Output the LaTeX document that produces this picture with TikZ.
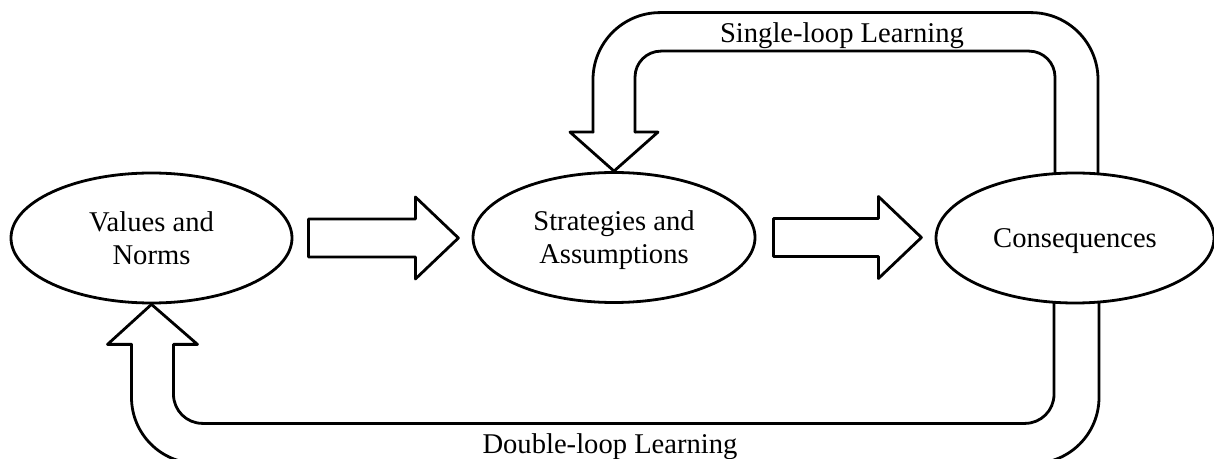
\documentclass[tikz,border=0pt]{standalone}
\usepackage{fontspec}
\setmainfont{Liberation Serif}
\usetikzlibrary{shapes.geometric,calc}
\begin{document}
\begin{tikzpicture}[x=0.5pt,y=-0.5pt,
  ln/.style={line width=1.4pt, line join=round, line cap=round},
  ell/.style={ellipse, draw, line width=1.4pt, inner sep=0pt, minimum height=65pt,
    align=center, font=\fontsize{14.3}{16.5}\selectfont},
  lbl/.style={font=\fontsize{14.3}{16}\selectfont, inner sep=0pt}]
\fill[white] (0,0) rectangle (1214,459);
\useasboundingbox (0,0) rectangle (1214,459);

% ellipses
\node[ell, minimum width=140.5pt] (v) at (151.5,238) {Values and\\Norms};
\node[ell, minimum width=141pt, text depth=0pt] (s) at (614,237.5) {Strategies and\\Assumptions};
\node[ell, minimum width=139pt, text depth=0pt] (c) at (1075,238) {Consequences};

% block arrows between ellipses
\draw[ln] ($(v.east)+(15,-19)$) -- ++(107,0) -- ++(0,-22) -- ++(43,41)
  -- ++(-43,41) -- ++(0,-22) -- ++(-107,0) -- cycle;
\draw[ln] ($(s.east)+(17,-19)$) -- ++(105,0) -- ++(0,-22) -- ++(43,41)
  -- ++(-43,41) -- ++(0,-22) -- ++(-105,0) -- cycle;

% single-loop arrow (from Consequences to Strategies)
\draw[ln, rounded corners=13pt] ($(c.north)+(-20,1)$) |- ($(s.north)+(21,-120)$)
  -- ($(s.north)+(21,-39)$);
\draw[ln] ($(s.north)+(21,-39)$) -- ++(23,0) -- (s.north)
  -- ($(s.north)+(-44,-39)$) -- ++(23,0);
\draw[ln, rounded corners=33.5pt] ($(s.north)+(-21,-39)$) |- ($(c.north)+(23,-159)$)
  -- ($(c.north)+(23,1)$);

% double-loop arrow (from Consequences to Values)
\draw[ln, rounded corners=14.5pt] ($(c.south)+(-21,-1)$) |- ($(v.south)+(22,119)$)
  -- ($(v.south)+(22,40)$);
\draw[ln] ($(v.south)+(22,40)$) -- ++(24,0) -- (v.south)
  -- ($(v.south)+(-44,40)$) -- ++(24,0);
\draw[ln, rounded corners=33pt] ($(v.south)+(-20,40)$) |- ($(c.south)+(24,159)$)
  -- ($(c.south)+(24,-1)$);

% labels
\node[lbl, anchor=base] (sl) at (842,43) {Single-loop Learning};
\node[lbl, anchor=base] (dl) at (610,453) {Double-loop Learning};
\end{tikzpicture}
\end{document}
